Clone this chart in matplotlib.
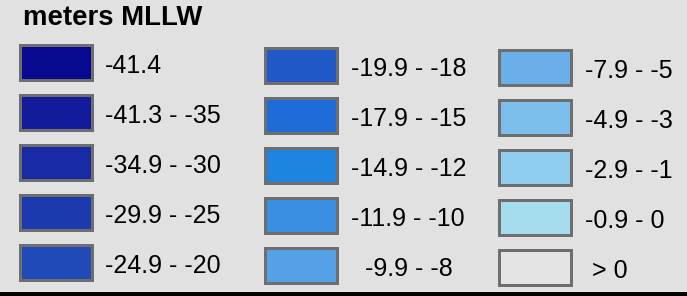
import matplotlib
matplotlib.use("Agg")
import matplotlib.pyplot as plt
from matplotlib.patches import Rectangle

title = "meters MLLW"
labels = ["-41.4", "-41.3 - -35", "-34.9 - -30", "-29.9 - -25", "-24.9 - -20",
          "-19.9 - -18", "-17.9 - -15", "-14.9 - -12", "-11.9 - -10", "  -9.9 - -8",
          "-7.9 - -5", "-4.9 - -3", "-2.9 - -1", "-0.9 - 0", " > 0"]
colors = ["#070990", "#111b9b", "#1729a3", "#1b3aae", "#1f4ab8",
          "#2058c6", "#1f6bd7", "#1d84e0", "#3b8fe3", "#56a0e7",
          "#6aafea", "#7bbeec", "#8ecdee", "#a5dcee", "#e4e4e4"]

W, H = 687, 296
fig = plt.figure(figsize=(W / 100, H / 100), dpi=100)
fig.patch.set_facecolor("#e1e1e1")
ax = fig.add_axes([0, 0, 1, 1])
ax.set_xlim(0, W)
ax.set_ylim(H, 0)
ax.axis("off")

font = "Liberation Sans"
ax.text(23, 25, title, fontsize=19.8, fontweight="bold", family=font,
        ha="left", va="baseline", color="black")

col_x = [18, 263, 497]
col_top = [43, 46.5, 48.5]
text_x = [105, 351, 585]
sw_w, sw_h, row_step, lw_px = 75, 38, 50, 3

for i, (lab, c) in enumerate(zip(labels, colors)):
    col, row = divmod(i, 5)
    x0 = col_x[col]
    y0 = col_top[col] + row * row_step
    ax.add_patch(Rectangle((x0 + lw_px / 2, y0 + lw_px / 2), sw_w - lw_px, sw_h - lw_px,
                           facecolor=c, edgecolor="#6e6e6e", linewidth=lw_px * 0.72))
    ax.text(text_x[col], y0 + 30, lab, fontsize=18, family=font,
            ha="left", va="baseline", color="black")

ax.add_patch(Rectangle((0, 292), W, 4, facecolor="black", edgecolor="none"))

fig.savefig("out.png", dpi=100, facecolor=fig.get_facecolor())
